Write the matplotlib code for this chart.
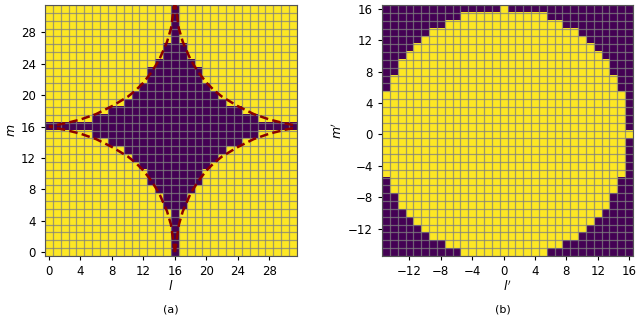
import numpy as np
import matplotlib
matplotlib.use("Agg")
import matplotlib.pyplot as plt

# ---- Panel (a): purple star, half-width of purple run per row m (centre column l=16)
a_m = list(range(32))
a_halfwidth = [0, 0, 0, 0, 0, 0, 1, 1, 2, 3, 3, 4, 5, 6, 8, 10,
               16,
               10, 8, 6, 5, 4, 3, 3, 2, 1, 1, 0, 0, 0, 0, 0]
a_center = 16

# red dashed boundary, one quadrant (|dl|, |dm|)
curve_dl = [0.0, 0.5, 1.0, 2.0, 3.0, 4.0, 5.0, 6.0, 8.0, 10.0, 12.0, 14.0, 16.0]
curve_dm = [16.0, 12.5, 10.8, 8.5, 6.9, 5.6, 4.6, 3.8, 2.6, 1.6, 0.9, 0.4, 0.0]

# ---- Panel (b): yellow disc, half-width per row m' = -15..16
b_m = list(range(-15, 17))
b_halfwidth = [5, 7, 9, 10, 11, 12, 13, 13, 14, 14, 15, 15, 15, 15, 15,
               16,
               15, 15, 15, 15, 15, 14, 14, 13, 13, 12, 11, 10, 9, 7, 5, 0]

a_xticks = [0, 4, 8, 12, 16, 20, 24, 28]
a_yticks = [0, 4, 8, 12, 16, 20, 24, 28]
b_xticks = [-12, -8, -4, 0, 4, 8, 12, 16]
b_yticks = [-12, -8, -4, 0, 4, 8, 12, 16]

# build grids
A = np.ones((32, 32))
for m, w in zip(a_m, a_halfwidth):
    lo = max(a_center - w, 0)
    hi = min(a_center + w, 31)
    A[m, lo:hi + 1] = 0

B = np.zeros((32, 32))
for i, (m, w) in enumerate(zip(b_m, b_halfwidth)):
    for j, l in enumerate(range(-15, 17)):
        if -w <= l <= w:
            B[i, j] = 1

fig = plt.figure(figsize=(6.4, 3.17), dpi=100)
ax1 = fig.add_axes([0.0703, 0.1924, 0.3937, 0.7918])
ax2 = fig.add_axes([0.5969, 0.1924, 0.3922, 0.7918])

ax1.imshow(A, origin='lower', cmap='viridis', vmin=0, vmax=1,
           extent=(-0.5, 31.5, -0.5, 31.5), aspect='auto', interpolation='nearest')
ax2.imshow(B, origin='lower', cmap='viridis', vmin=0, vmax=1,
           extent=(-15.5, 16.5, -15.5, 16.5), aspect='auto', interpolation='nearest')

# red dashed curves
dl = np.array(curve_dl)
dm = np.array(curve_dm)
for sx in (-1, 1):
    for sy in (-1, 1):
        ax1.plot(a_center + sx * dl, a_center + sy * dm, ls=(0, (3.4, 1.7)),
                 color='#8b0000', lw=1.8, zorder=5)

for ax, lo, hi in ((ax1, -0.5, 31.5), (ax2, -15.5, 16.5)):
    ax.set_xlim(lo, hi)
    ax.set_ylim(lo, hi)
    ax.set_xticks(np.arange(lo, hi + 0.01, 1), minor=True)
    ax.set_yticks(np.arange(lo, hi + 0.01, 1), minor=True)
    ax.grid(which='minor', color='#808080', lw=0.9, alpha=0.75)
    ax.tick_params(which='minor', length=0)
    ax.tick_params(which='major', labelsize=8.5, length=3)
    for s in ax.spines.values():
        s.set_color('#555555')
        s.set_linewidth(0.8)

ax1.set_xticks(a_xticks)
ax1.set_yticks(a_yticks)
ax2.set_xticks(b_xticks)
ax2.set_yticks(b_yticks)

ax1.set_xlabel('$l$', fontsize=9, labelpad=1)
ax1.set_ylabel('$m$', fontsize=9, labelpad=2)
ax2.set_xlabel("$l'$", fontsize=9, labelpad=1)
ax2.set_ylabel("$m'$", fontsize=9, labelpad=2)

fig.text(171 / 640, 1 - 310 / 317, '(a)', ha='center', va='center', fontsize=8)
fig.text(503 / 640, 1 - 310 / 317, '(b)', ha='center', va='center', fontsize=8)

fig.savefig('out.png', dpi=100)
